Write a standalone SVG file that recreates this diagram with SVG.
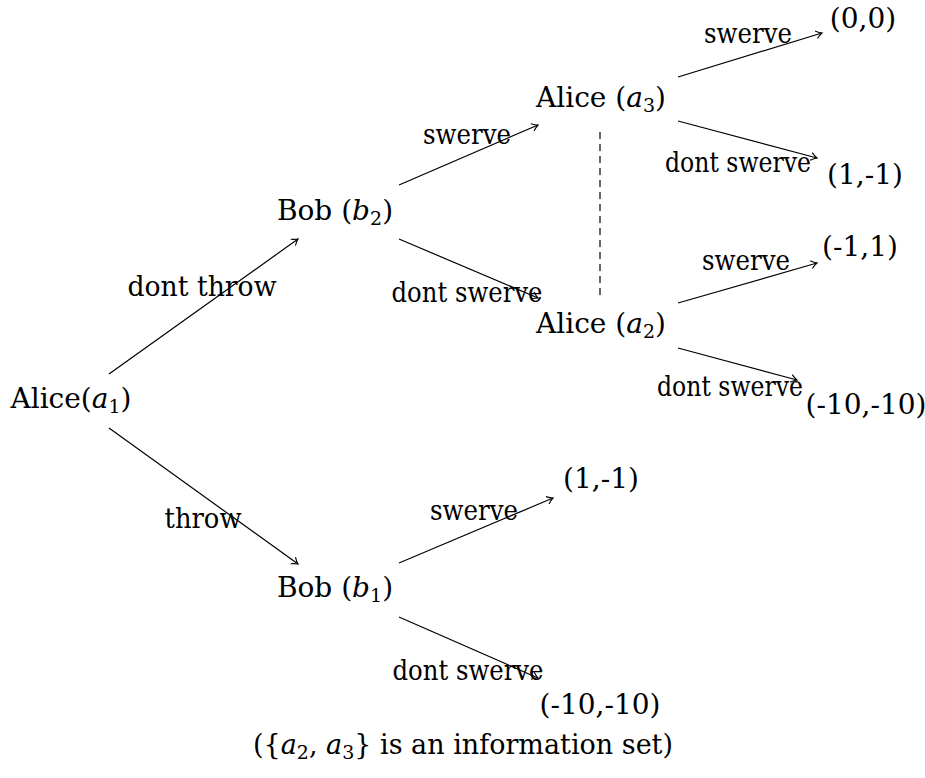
<svg xmlns="http://www.w3.org/2000/svg" width="925" height="778" viewBox="0 0 925 778" font-family="'DejaVu Serif', 'Liberation Serif', serif">
<style>
text{font-size:28px;fill:#000;text-anchor:middle}
.e{stroke:#000;stroke-width:1.2;fill:none}
.i{font-style:italic}
.s{font-size:19px}
.cap{font-size:27px}
</style>
<defs>
<marker id="arr" markerUnits="userSpaceOnUse" markerWidth="14" markerHeight="14" viewBox="-8 -7 10 14" refX="0" refY="0" orient="auto">
<path d="M -6 -4 Q -2.5 -1 0 0 Q -2.5 1 -6 4" fill="none" stroke="#000" stroke-width="1.1"/>
</marker>
</defs>
<g id="connectors">
<line class="e" x1="109" y1="374" x2="298" y2="239" marker-end="url(#arr)"/>
<line class="e" x1="109" y1="428" x2="298" y2="564" marker-end="url(#arr)"/>
<line class="e" x1="399" y1="185" x2="538" y2="125" marker-end="url(#arr)"/>
<line class="e" x1="399" y1="239" x2="538" y2="298" marker-end="url(#arr)"/>
<line class="e" x1="399" y1="563" x2="553" y2="498" marker-end="url(#arr)"/>
<line class="e" x1="399" y1="617" x2="538" y2="678" marker-end="url(#arr)"/>
<line class="e" x1="678" y1="77" x2="822" y2="33" marker-end="url(#arr)"/>
<line class="e" x1="678" y1="121" x2="817" y2="158" marker-end="url(#arr)"/>
<line class="e" x1="678" y1="303" x2="817" y2="263" marker-end="url(#arr)"/>
<line class="e" x1="678" y1="348" x2="797" y2="380" marker-end="url(#arr)"/>
<line class="e" x1="600" y1="132" x2="600" y2="300" stroke-dasharray="7,5"/>
<text x="202" y="296" textLength="149" lengthAdjust="spacingAndGlyphs">dont throw</text>
<text x="203" y="528" textLength="77" lengthAdjust="spacingAndGlyphs">throw</text>
<text x="467" y="144" textLength="88" lengthAdjust="spacingAndGlyphs">swerve</text>
<text x="467" y="302" textLength="151" lengthAdjust="spacingAndGlyphs">dont swerve</text>
<text x="474" y="520" textLength="88" lengthAdjust="spacingAndGlyphs">swerve</text>
<text x="468" y="680" textLength="151" lengthAdjust="spacingAndGlyphs">dont swerve</text>
<text x="748" y="43" textLength="88" lengthAdjust="spacingAndGlyphs">swerve</text>
<text x="738" y="172" textLength="146" lengthAdjust="spacingAndGlyphs">dont swerve</text>
<text x="746" y="270" textLength="88" lengthAdjust="spacingAndGlyphs">swerve</text>
<text x="730" y="396" textLength="146" lengthAdjust="spacingAndGlyphs">dont swerve</text>
</g>
<g id="a1"><text x="71" y="408">Alice(<tspan class="i">a</tspan><tspan class="s" dy="5">1</tspan><tspan dy="-5">)</tspan></text></g>
<g id="b2"><text x="335" y="220">Bob (<tspan class="i">b</tspan><tspan class="s" dy="5">2</tspan><tspan dy="-5">)</tspan></text></g>
<g id="b1"><text x="335" y="597">Bob (<tspan class="i">b</tspan><tspan class="s" dy="5">1</tspan><tspan dy="-5">)</tspan></text></g>
<g id="a3"><text x="601" y="107">Alice (<tspan class="i">a</tspan><tspan class="s" dy="5">3</tspan><tspan dy="-5">)</tspan></text></g>
<g id="a2"><text x="601" y="333">Alice (<tspan class="i">a</tspan><tspan class="s" dy="5">2</tspan><tspan dy="-5">)</tspan></text></g>
<g id="p00"><text x="863" y="28">(0,0)</text></g>
<g id="p1m1top"><text x="865" y="184">(1,-1)</text></g>
<g id="pm11"><text x="860" y="256">(-1,1)</text></g>
<g id="pm10right"><text x="866" y="414">(-10,-10)</text></g>
<g id="p1m1bot"><text x="601" y="488">(1,-1)</text></g>
<g id="pm10bot"><text x="600" y="714">(-10,-10)</text></g>
<g id="caption"><text class="cap" x="463" y="754">({<tspan class="i">a</tspan><tspan class="s" dy="5">2</tspan><tspan dy="-5">, </tspan><tspan class="i">a</tspan><tspan class="s" dy="5">3</tspan><tspan dy="-5">} is an information set)</tspan></text></g>
</svg>
